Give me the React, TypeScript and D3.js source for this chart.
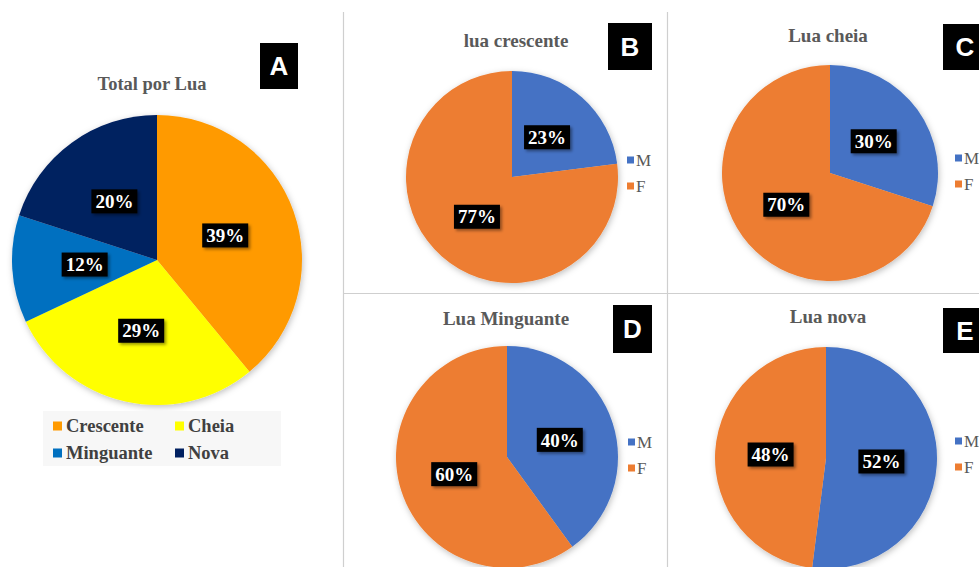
import React from 'react';
import * as d3 from 'd3';

// Total por Lua (painel A)
const moonCategories = ['Crescente', 'Cheia', 'Minguante', 'Nova'];
const moonTotals = [39, 29, 12, 20];
const moonColors = ['#FF9A00', '#FFFF00', '#0070C0', '#002060'];

// M / F por fase (paineis B-E)
const sexCategories = ['M', 'F'];
const sexColors = ['#4472C4', '#ED7D31'];
const crescenteSex = [23, 77];
const cheiaSex = [30, 70];
const minguanteSex = [40, 60];
const novaSex = [52, 48];

const panelTitles = ['lua crescente', 'Lua cheia', 'Lua Minguante', 'Lua nova'];
const panelLetters = ['B', 'C', 'D', 'E'];

const serif = "'Liberation Serif', 'Times New Roman', serif";
const sans = "'Liberation Sans', Arial, sans-serif";

const pieGen = d3.pie<number>().sort(null).value((d) => d);

const DataLabel = ({ x, y, text }: { x: number; y: number; text: string }) => (
  <g transform={`translate(${x},${y})`}>
    <rect x={-23} y={-12} width={46} height={24} fill="#000" filter="url(#lblShadow)" />
    <text textAnchor="middle" dy="0.35em" fill="#fff" fontFamily={serif} fontWeight="bold" fontSize={19}>
      {text}
    </text>
  </g>
);

const LetterBox = ({ x, y, w, h, letter }: { x: number; y: number; w: number; h: number; letter: string }) => (
  <g>
    <rect x={x} y={y} width={w} height={h} fill="#000" />
    <text x={x + w / 2} y={y + h / 2} dy="0.36em" textAnchor="middle" fill="#fff" fontFamily={sans} fontWeight="bold" fontSize={26}>
      {letter}
    </text>
  </g>
);

type PieProps = {
  cx: number;
  cy: number;
  r: number;
  values: number[];
  colors: string[];
};

const Pie = ({ cx, cy, r, values, colors }: PieProps) => {
  const arcs = pieGen(values);
  const arc = d3.arc<d3.PieArcDatum<number>>().innerRadius(0).outerRadius(r);
  const labelArc = d3.arc<d3.PieArcDatum<number>>().innerRadius(r * 0.5).outerRadius(r * 0.5);
  return (
    <g transform={`translate(${cx},${cy})`}>
      <g filter="url(#pieShadow)">
        {arcs.map((a, i) => (
          <path key={i} d={arc(a) || ''} fill={colors[i]} />
        ))}
      </g>
      {arcs.map((a, i) => {
        const [lx, ly] = labelArc.centroid(a);
        return <DataLabel key={i} x={lx} y={ly} text={`${a.data}%`} />;
      })}
    </g>
  );
};

const SexLegend = ({ x, y }: { x: number; y: number }) => (
  <g>
    {sexCategories.map((c, i) => (
      <g key={c} transform={`translate(${x},${y + i * 26})`}>
        <rect x={0} y={-3.5} width={7} height={7} fill={sexColors[i]} />
        <text x={9} dy="0.34em" fill="#595959" fontFamily={serif} fontSize={17}>
          {c}
        </text>
      </g>
    ))}
  </g>
);

const sexPanels = [
  { values: crescenteSex, cx: 512, cy: 177, r: 106, tx: 516, ty: 40, box: [608, 23, 44, 47], lx: 627, ly: 160 },
  { values: cheiaSex, cx: 830, cy: 173, r: 108, tx: 828, ty: 35, box: [943, 24, 44, 46], lx: 955, ly: 158 },
  { values: minguanteSex, cx: 507, cy: 457, r: 111, tx: 506, ty: 318, box: [613, 305, 39, 48], lx: 628, ly: 442 },
  { values: novaSex, cx: 826, cy: 458, r: 111, tx: 828, ty: 316, box: [943, 308, 44, 45], lx: 955, ly: 441 },
];

const App = () => {
  return (
    <svg width={979} height={567} style={{ position: 'absolute', left: 0, top: 0, background: '#fff' }}>
      <defs>
        <filter id="pieShadow" x="-20%" y="-20%" width="140%" height="140%">
          <feDropShadow dx={1} dy={2} stdDeviation={3} floodColor="#000" floodOpacity={0.25} />
        </filter>
        <filter id="lblShadow" x="-30%" y="-30%" width="160%" height="160%">
          <feDropShadow dx={2} dy={2} stdDeviation={1.5} floodColor="#000" floodOpacity={0.4} />
        </filter>
      </defs>

      {/* separadores */}
      <g stroke="#cfcfcf" strokeWidth={1.2}>
        <line x1={343.5} y1={12} x2={343.5} y2={567} />
        <line x1={667.5} y1={12} x2={667.5} y2={567} />
        <line x1={343} y1={293.5} x2={979} y2={293.5} />
      </g>

      {/* Painel A */}
      <text x={152} y={84} dy="0.35em" textAnchor="middle" fill="#595959" fontFamily={serif} fontWeight="bold" fontSize={18.5}>
        Total por Lua
      </text>
      <LetterBox x={260} y={43} w={38} h={46} letter="A" />
      <Pie cx={157} cy={260} r={145} values={moonTotals} colors={moonColors} />
      <rect x={43} y={411} width={238} height={55} fill="#f7f7f7" />
      {moonCategories.map((c, i) => {
        const col = i % 2;
        const row = Math.floor(i / 2);
        const x = 53 + col * 122;
        const y = 426 + row * 27;
        return (
          <g key={c} transform={`translate(${x},${y})`}>
            <rect x={0} y={-4.5} width={9} height={9} fill={moonColors[i]} />
            <text x={13} dy="0.33em" fill="#404040" fontFamily={serif} fontWeight="bold" fontSize={18.5}>
              {c}
            </text>
          </g>
        );
      })}

      {/* Paineis B-E */}
      {sexPanels.map((p, i) => (
        <g key={i}>
          <text x={p.tx} y={p.ty} dy="0.35em" textAnchor="middle" fill="#595959" fontFamily={serif} fontWeight="bold" fontSize={19}>
            {panelTitles[i]}
          </text>
          <LetterBox x={p.box[0]} y={p.box[1]} w={p.box[2]} h={p.box[3]} letter={panelLetters[i]} />
          <Pie cx={p.cx} cy={p.cy} r={p.r} values={p.values} colors={sexColors} />
          <SexLegend x={p.lx} y={p.ly} />
        </g>
      ))}
    </svg>
  );
};

export default App;
